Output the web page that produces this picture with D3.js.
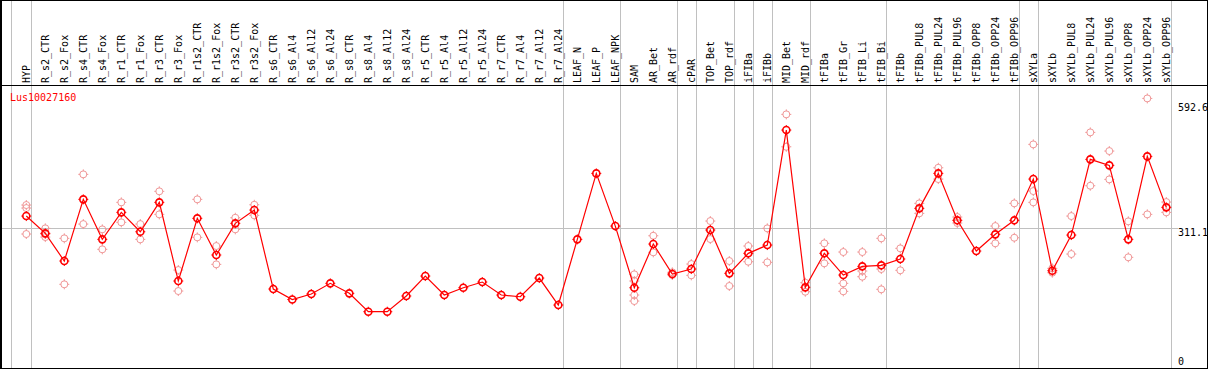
<!DOCTYPE html>
<html>
<head>
<meta charset="utf-8">
<script src="https://cdn.jsdelivr.net/npm/d3@7"></script>
<style>
  body { margin: 0; background: #fff; }
  text { font-family: "DejaVu Sans Mono", monospace; font-size: 10px; }
</style>
</head>
<body>
<svg id="chart"></svg>
<script>
const gene = 'Lus10027160';

const samples = ['HYP', 'R_s2_CTR', 'R_s2_Fox', 'R_s4_CTR', 'R_s4_Fox', 'R_r1_CTR', 'R_r1_Fox', 'R_r3_CTR', 'R_r3_Fox',
    'R_r1s2_CTR', 'R_r1s2_Fox', 'R_r3s2_CTR', 'R_r3s2_Fox', 'R_s6_CTR', 'R_s6_Al4', 'R_s6_Al12', 'R_s6_Al24',
    'R_s8_CTR', 'R_s8_Al4', 'R_s8_Al12', 'R_s8_Al24', 'R_r5_CTR', 'R_r5_Al4', 'R_r5_Al12', 'R_r5_Al24',
    'R_r7_CTR', 'R_r7_Al4', 'R_r7_Al12', 'R_r7_Al24', 'LEAF_N', 'LEAF_P', 'LEAF_NPK', 'SAM', 'AR_Bet', 'AR_rdf',
    'cPAR', 'TOP_Bet', 'TOP_rdf', 'iFIBa', 'iFIBb', 'MID_Bet', 'MID_rdf', 'tFIBa', 'tFIB_Gr', 'tFIB_Li', 'tFIB_Bi',
    'tFIBb', 'tFIBb_PUL8', 'tFIBb_PUL24', 'tFIBb_PUL96', 'tFIBb_OPP8', 'tFIBb_OPP24', 'tFIBb_OPP96',
    'sXYLa', 'sXYLb', 'sXYLb_PUL8', 'sXYLb_PUL24', 'sXYLb_PUL96', 'sXYLb_OPP8', 'sXYLb_OPP24', 'sXYLb_OPP96'];

// mean expression per sample
const means = [337.2, 298.3, 236.1, 374.8, 284.8, 345.5, 301.9, 368.0, 191.1,
    332.1, 249.6, 320.8, 350.7, 173.1, 149.5, 161.9, 185.9,
    163.4, 122.1, 122.1, 157.4, 202.3, 159.6, 176.0, 188.8,
    159.6, 155.8, 197.8, 137.1, 284.8, 433.2, 314.7, 176.0, 274.3, 206.8,
    218.1, 305.8, 208.4, 253.4, 272.0, 530.6, 176.9, 253.4, 204.6, 224.1, 226.4,
    240.6, 354.5, 433.2, 327.6, 258.5, 296.1, 327.6,
    420.4, 214.3, 294.5, 464.7, 451.2, 284.8, 471.4, 356.8];

// individual replicates (empty where only one value was measured)
const reps = [
    [362.0, 355.2, 296.8], [309.6, 296.8, 290.0], [287.1, 183.7], [431.0, 319.2], [307.3, 262.4],
    [368.0, 323.1], [319.2, 284.8], [392.8, 341.0], [215.8, 168.6],
    [374.8, 289.3], [269.8, 228.6], [333.4, 307.3], [362.6, 338.8], [], [], [], [],
    [], [], [], [], [], [], [], [],
    [], [], [], [], [], [], [], [206.2, 191.1, 159.6, 146.1], [292.9, 255.6], [210.7, 204.6],
    [229.3, 203.9], [326.0, 285.5], [236.1, 179.9], [269.8, 234.5], [309.6, 233.1], [565.9, 493.0], [187.3, 167.0],
    [275.9, 230.9], [256.3, 185.9, 167.9], [256.3, 213.6, 200.8], [287.1, 218.1, 172.4],
    [264.6, 215.2], [365.8, 343.3], [445.8, 420.4], [335.0, 321.5], [], [314.7, 275.9], [365.8, 288.4],
    [498.4, 393.4, 368.0], [219.6, 209.8], [337.2, 251.8], [525.4, 405.4], [483.4, 419.7], [325.3, 244.4],
    [601.8, 341.0], [368.7, 345.5]];

// gray separators are drawn right after these samples
const groupEnds = ['HYP', 'R_r7_Al24', 'LEAF_NPK', 'AR_rdf', 'cPAR', 'TOP_rdf', 'iFIBa', 'iFIBb', 'MID_rdf',
    'tFIB_Bi', 'tFIBb_OPP96', 'sXYLa', 'sXYLb_OPP96'];

const yTicks = [0, 311.1, 592.6];

const width = 1209;
const height = 370;
const headerBottom = 85;
const plotBottom = 368;

const svg = d3.select('#chart')
    .attr('width', width)
    .attr('height', height);

const xScale = d3.scalePoint()
    .domain(samples)
    .range([26.3, 1166.3]);

const yScale = d3.scaleLinear()
    .domain([0, 592.6])
    .range([366, 102.5]);

// separators
const sepX = [xScale(samples[0]) - 15.3].concat(groupEnds.map(s => xScale(s) + 4.5));
svg.selectAll('.sep')
    .data(sepX)
    .join('line')
        .classed('sep', true)
        .attr('x1', d => Math.round(d) + 0.5)
        .attr('x2', d => Math.round(d) + 0.5)
        .attr('y1', 0)
        .attr('y2', plotBottom)
        .attr('stroke', '#c0c0c0');

// horizontal reference line
svg.append('line')
    .attr('x1', 0)
    .attr('x2', 1178)
    .attr('y1', Math.round(yScale(yTicks[1])) + 0.5)
    .attr('y2', Math.round(yScale(yTicks[1])) + 0.5)
    .attr('stroke', '#c0c0c0');

// frame
svg.append('rect')
    .attr('x', 0.5)
    .attr('y', 0.5)
    .attr('width', 1207)
    .attr('height', plotBottom)
    .attr('fill', 'none')
    .attr('stroke', '#000');
svg.append('line')
    .attr('x1', 1.5).attr('x2', 1.5)
    .attr('y1', 0).attr('y2', plotBottom)
    .attr('stroke', '#000');
svg.append('line')
    .attr('x1', 0).attr('x2', 1208)
    .attr('y1', headerBottom + 0.5).attr('y2', headerBottom + 0.5)
    .attr('stroke', '#000');

// sample labels
svg.selectAll('.xlabel')
    .data(samples)
    .join('text')
        .classed('xlabel', true)
        .attr('transform', d => `translate(${xScale(d) + 4},${headerBottom - 2}) rotate(-90)`)
        .attr('fill', '#000')
        .text(d => d);

// right-hand value labels
svg.selectAll('.ylabel')
    .data(yTicks)
    .join('text')
        .classed('ylabel', true)
        .attr('x', 1178)
        .attr('y', d => Math.min(yScale(d) + 8, 365))
        .attr('fill', '#000')
        .text(d => d);

svg.append('text')
    .attr('x', 10)
    .attr('y', 101)
    .attr('fill', '#ff0000')
    .text(gene);

const marker = (sel, color, sw) => {
    const r = 3.5;
    sel.append('circle')
        .attr('r', r)
        .attr('fill', 'none')
        .attr('stroke', color)
        .attr('stroke-width', sw);
    sel.append('path')
        .attr('d', `M0,${-r - 1.5}V${-r + 0.5}M0,${r - 0.5}V${r + 1.5}M${-r - 1.5},0H${-r + 0.5}M${r - 0.5},0H${r + 1.5}`)
        .attr('stroke', color)
        .attr('stroke-width', 1);
};

// replicates
const repPoints = [];
reps.forEach((list, i) => list.forEach(v => repPoints.push({ sample: samples[i], value: v })));
svg.selectAll('.rep')
    .data(repPoints)
    .join('g')
        .classed('rep', true)
        .attr('transform', d => `translate(${xScale(d.sample)},${yScale(d.value)})`)
        .call(marker, '#f09898', 1);

// mean line
const line = d3.line()
    .x((d, i) => xScale(samples[i]))
    .y(d => yScale(d));
svg.append('path')
    .datum(means)
    .attr('d', line)
    .attr('fill', 'none')
    .attr('stroke', '#ff0000')
    .attr('stroke-width', 1.2);

svg.selectAll('.mean')
    .data(means)
    .join('g')
        .classed('mean', true)
        .attr('transform', (d, i) => `translate(${xScale(samples[i])},${yScale(d)})`)
        .call(marker, '#ff0000', 1.6);
</script>
</body>
</html>
